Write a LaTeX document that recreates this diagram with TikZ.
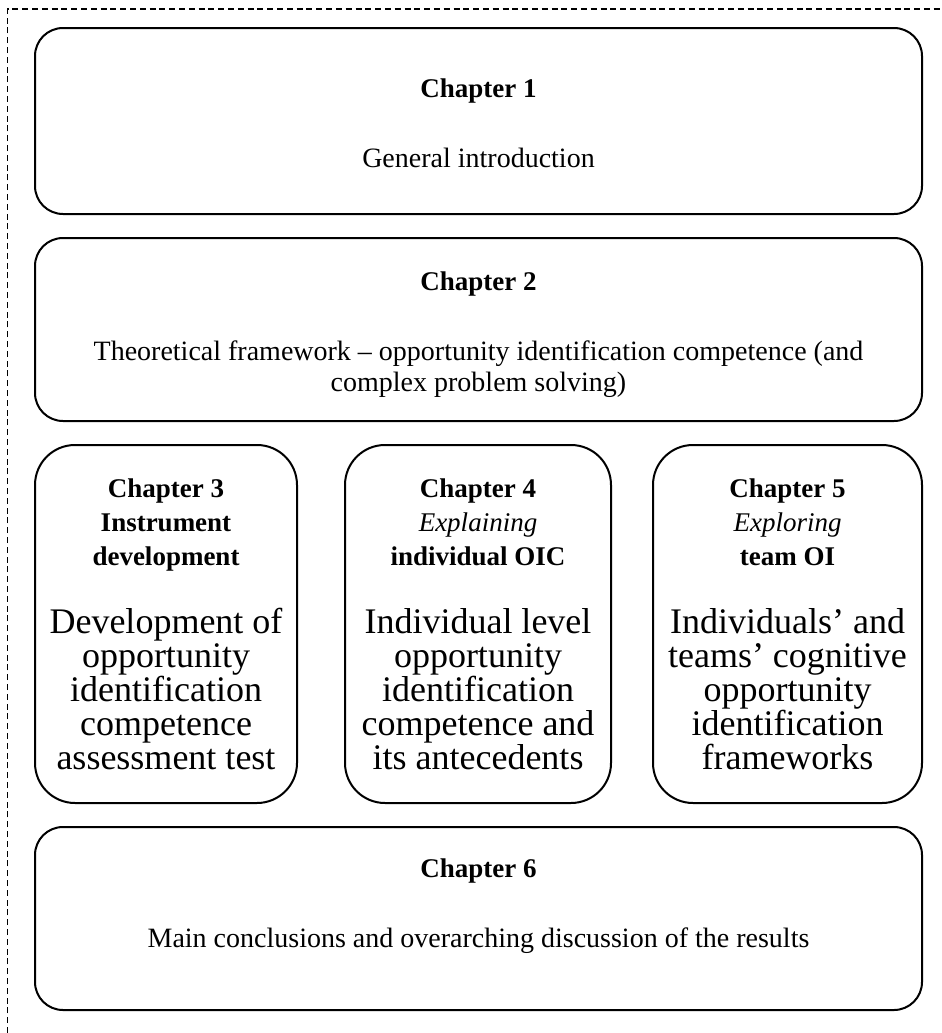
\documentclass[tikz,border=0pt]{standalone}
\usepackage{fontspec}
\setmainfont{Liberation Serif}
\newcommand{\headfont}{\fontsize{13.5}{17}\selectfont}

\tikzset{
  chapbox/.style={draw, line width=1pt, rounded corners=14pt, inner sep=0pt, align=center},
  widebox/.style={chapbox, minimum width=443.5pt, minimum height=91.5pt,
    font=\fontsize{14}{15.5}\selectfont},
  smallbox/.style={chapbox, rounded corners=20pt, minimum width=133pt, minimum height=179pt,
    font=\fontsize{18}{17}\selectfont},
}

\begin{document}
\begin{tikzpicture}[x=0.5pt, y=-0.5pt]
    \useasboundingbox (0,0) rectangle (942,1033);
    \draw [line width=0.9pt, dash pattern=on 3pt off 1.9pt] (7.5,1033) -- (7.5,9) -- (942,9);
    \node [widebox, minimum height=93pt] (ch1) at (478.5,121)
      {{\headfont\textbf{Chapter 1}}\\[19.5pt] General introduction\\[-17.5pt]{}};
    \node [widebox] (ch2) at (478.5,329.5)
      {{\headfont\textbf{Chapter 2}}\\[19.5pt] Theoretical framework -- opportunity identification competence (and\\ complex problem solving)\\[-17.5pt]{}};
    \node [smallbox, minimum width=131pt] (ch3) at (166,624)
      {{\headfont\textbf{Chapter 3}}\\ {\headfont\textbf{Instrument}}\\ {\headfont\textbf{development}}\\[17pt]
       Development of\\ opportunity\\ identification\\ competence\\ assessment test};
    \node [smallbox] (ch4) at (478,624)
      {{\headfont\textbf{Chapter 4}}\\ {\headfont\textit{Explaining}}\\ {\headfont\textbf{individual OIC}}\\[17pt]
       Individual level\\ opportunity\\ identification\\ competence and\\ its antecedents};
    \node [smallbox, minimum width=134.5pt] (ch5) at (787.5,624)
      {{\headfont\textbf{Chapter 5}}\\ {\headfont\textit{Exploring}}\\ {\headfont\textbf{team OI}}\\[17pt]
       Individuals' and\\ teams' cognitive\\ opportunity\\ identification\\ frameworks};
    \node [widebox] (ch6) at (478.5,918.5)
      {{\headfont\textbf{Chapter 6}}\\[19.5pt] Main conclusions and overarching discussion of the results\\{}};
\end{tikzpicture}
\end{document}
